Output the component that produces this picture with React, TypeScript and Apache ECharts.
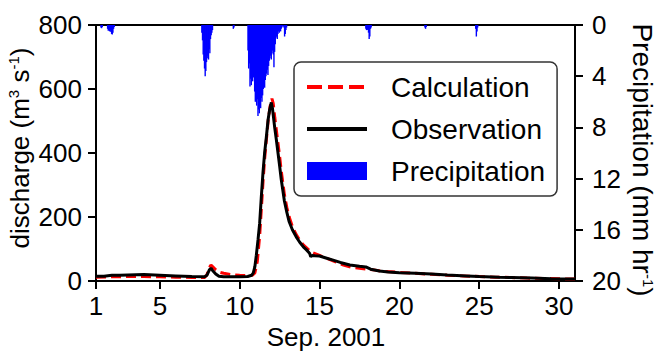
import React, { useEffect, useRef } from "react";
import * as echarts from "echarts";

// ---- Data ----
const xTickValues = [1, 5, 10, 15, 20, 25, 30];

// Observation (day of Sep. 2001, discharge m3/s)
const obsDays = [1.0, 1.5, 2.0, 2.5, 3.0, 4.0, 5.0, 6.0, 7.0, 7.8, 7.95, 8.1, 8.2, 8.3, 8.5, 8.7, 9.0, 9.5, 10.0, 10.5, 10.75, 10.85, 10.95, 11.04, 11.15, 11.25, 11.35, 11.46, 11.56, 11.67, 11.78, 11.875, 11.98, 12.05, 12.19, 12.3, 12.4, 12.5, 12.6, 12.8, 12.95, 13.1, 13.3, 13.54, 13.75, 14.0, 14.17, 14.375, 14.45, 14.55, 14.7, 15.0, 15.4, 15.8, 16.3, 16.9, 17.5, 17.9, 18.2, 18.75, 19.3, 20.0, 21.0, 22.0, 23.0, 24.2, 25.0, 26.25, 27.0, 28.3, 29.5, 30.4, 31.0];
const obsQ = [15, 15, 18, 18, 19, 20, 18, 16, 14, 13, 18, 35, 40, 33, 22, 15, 13, 13, 13, 14, 18, 25, 45, 80, 130, 180, 260, 340, 400, 450, 505, 535, 558, 540, 480, 440, 400, 360, 318, 250, 215, 185, 160, 138, 122, 106, 98, 87, 76, 80, 79, 78, 72, 66, 58, 50, 46, 44, 37, 31, 28, 26, 24, 22, 19, 16, 14, 12, 11, 9, 7, 6, 6];

// Calculation
const calcDays = [1.0, 2.0, 3.0, 4.0, 5.0, 6.0, 7.0, 7.8, 7.95, 8.1, 8.2, 8.3, 8.5, 8.7, 9.0, 9.5, 10.0, 10.5, 10.8, 10.95, 11.1, 11.25, 11.35, 11.46, 11.56, 11.67, 11.78, 11.9, 12.02, 12.1, 12.2, 12.3, 12.4, 12.5, 12.6, 12.8, 12.95, 13.1, 13.3, 13.54, 13.75, 14.0, 14.375, 14.6, 15.0, 15.5, 16.0, 16.5, 17.0, 17.5, 18.0, 18.5, 19.0, 20.0, 21.0, 22.0, 23.0, 24.0, 25.0, 26.0, 27.0, 28.0, 29.0, 30.0, 31.0];
const calcQ = [12, 13, 14, 14, 13, 12, 11, 11, 20, 42, 50, 45, 35, 28, 24, 20, 18, 17, 18, 25, 60, 140, 220, 310, 380, 440, 500, 545, 570, 555, 510, 470, 430, 390, 345, 270, 230, 200, 170, 145, 128, 112, 95, 88, 80, 70, 60, 50, 43, 40, 37, 34, 30, 27, 24, 21, 18, 16, 14, 12, 11, 9, 8, 7, 6];

// Hourly precipitation (mm/hr), each event with its start day
const rain1Start = 1.31;
const rain1 = [0.2, 0.25, 0.15, 0, 0, 0, 0, 0, 0, 0, 0.3, 0.45, 0.4, 0.5, 0.45, 0.55, 0.7, 0.75, 0.6, 0.3, 0.15];
const rain2Start = 7.63;
const rain2 = [0.6, 1.2, 2.3, 2.8, 3.4, 4.0, 3.6, 2.9, 2.6, 2.4, 2.7, 1.9, 2.2, 1.1, 0.8, 0.6, 0.4];
const rain3Start = 9.6;
const rain3 = [0.3, 0.2];
const rain4Start = 10.52;
const rain4 = [2.0, 3.4, 3.0, 4.8, 4.2, 4.7, 3.6, 4.4, 4.1, 3.5, 5.2, 6.0, 5.5, 6.3, 5.8, 7.1, 6.6, 6.9, 6.2, 6.5, 5.7, 6.0, 5.5, 5.0, 4.6, 4.9, 4.3, 4.0, 3.8, 3.5, 3.9, 3.2, 2.8, 2.6, 2.4, 2.7, 2.2, 2.0, 2.3, 3.3, 2.1, 1.5, 1.0, 0.9, 1.1, 0.7, 0.5, 0.6, 0.4, 0.5, 0.3, 0.2, 0.1, 0, 0.2, 0.9, 0.7, 0.4, 0.2];
const rain5Start = 17.9;
const rain5 = [0.3, 0.4, 0.35, 0.4, 0.6, 1.1, 0.9, 0.3, 0.2];
const rain6Start = 21.6;
const rain6 = [0.2, 0.3, 0.15];
const rain7Start = 24.78;
const rain7 = [0.3, 0.9, 0.5, 0.2];

const rainEvents: [number, number[]][] = [
  [rain1Start, rain1],
  [rain2Start, rain2],
  [rain3Start, rain3],
  [rain4Start, rain4],
  [rain5Start, rain5],
  [rain6Start, rain6],
  [rain7Start, rain7],
];

const FONT = "'Liberation Sans', Arial, Helvetica, sans-serif";

export default function App() {
  const ref = useRef<HTMLDivElement>(null);

  useEffect(() => {
    document.body.style.margin = "0";
    if (!ref.current) return;
    const chart = echarts.init(ref.current, undefined, { renderer: "svg" });

    const obsData = obsDays.map((d, i) => [d, obsQ[i]]);
    const calcData = calcDays.map((d, i) => [d, calcQ[i]]);
    const rainData: number[][] = [];
    rainEvents.forEach(([start, vals]) => {
      vals.forEach((v, i) => {
        if (v > 0) rainData.push([start + i / 24, v]);
      });
    });

    chart.setOption({
      animation: false,
      grid: {
        left: 96,
        right: 83,
        top: 25,
        bottom: 70,
        show: true,
        borderColor: "#000",
        borderWidth: 2,
        backgroundColor: "transparent",
      },
      legend: {
        orient: "vertical",
        left: 294,
        top: 62,
        itemWidth: 60,
        itemHeight: 18,
        itemGap: 12,
        padding: [10, 12, 10, 11],
        borderColor: "#333",
        borderWidth: 1.5,
        borderRadius: 7,
        backgroundColor: "#fff",
        textStyle: {
          fontFamily: FONT,
          fontSize: 28,
          color: "#000",
          lineHeight: 30,
          padding: [0, 0, 0, 19],
        },
        data: [
          {
            name: "Calculation",
            itemStyle: { opacity: 0 },
            lineStyle: { color: "#ff0000", width: 4, type: [15, 6] },
          },
          {
            name: "Observation",
            itemStyle: { opacity: 0 },
            lineStyle: { color: "#000", width: 4 },
          },
          { name: "Precipitation", icon: "rect" },
        ],
      },
      xAxis: {
        type: "value",
        min: 1,
        max: 31,
        axisLine: { show: true, lineStyle: { color: "#000", width: 2 } },
        axisTick: {
          show: true,
          customValues: xTickValues,
          length: 8,
          lineStyle: { color: "#000", width: 2 },
        },
        axisLabel: {
          customValues: xTickValues,
          fontFamily: FONT,
          fontSize: 26,
          color: "#000",
          margin: 12,
        },
        splitLine: { show: false },
      },
      yAxis: [
        {
          type: "value",
          min: 0,
          max: 800,
          interval: 200,
          position: "left",
          axisLine: { show: true, lineStyle: { color: "#000", width: 2 } },
          axisTick: { show: true, length: 8, lineStyle: { color: "#000", width: 2 } },
          axisLabel: { fontFamily: FONT, fontSize: 26, color: "#000", margin: 14 },
          splitLine: { show: false },
        },
        {
          type: "value",
          min: 0,
          max: 20,
          interval: 4,
          inverse: true,
          position: "right",
          axisLine: { show: true, lineStyle: { color: "#000", width: 2 } },
          axisTick: { show: true, length: 8, lineStyle: { color: "#000", width: 2 } },
          axisLabel: { fontFamily: FONT, fontSize: 26, color: "#000", margin: 17 },
          splitLine: { show: false },
        },
      ],
      series: [
        {
          name: "Precipitation",
          type: "bar",
          yAxisIndex: 1,
          data: rainData,
          barWidth: 1.4,
          itemStyle: { color: "#0000ff" },
          z: 1,
        },
        {
          name: "Calculation",
          type: "line",
          data: calcData,
          symbol: "none",
          lineStyle: { color: "#ff0000", width: 3, type: [10, 5] },
          itemStyle: { color: "#ff0000" },
          z: 3,
        },
        {
          name: "Observation",
          type: "line",
          data: obsData,
          symbol: "none",
          lineStyle: { color: "#000", width: 3 },
          itemStyle: { color: "#000" },
          z: 4,
        },
      ],
      graphic: [
        {
          type: "text",
          x: 326,
          y: 337,
          style: {
            text: "Sep. 2001",
            fontFamily: FONT,
            fontSize: 26,
            lineHeight: 26,
            fill: "#000",
            align: "center",
            verticalAlign: "middle",
          },
        },
        {
          type: "text",
          x: 20,
          y: 148,
          rotation: Math.PI / 2,
          style: {
            text: "{a|discharge (m}{b|3}{a| s}{b|-1}{a|)}",
            align: "center",
            verticalAlign: "middle",
            fill: "#000",
            rich: {
              a: { fontFamily: FONT, fontSize: 26, lineHeight: 28, fill: "#000" },
              b: { fontFamily: FONT, fontSize: 15, lineHeight: 16, verticalAlign: "top", fill: "#000" },
            },
          },
        },
        {
          type: "text",
          x: 642,
          y: 160,
          rotation: -Math.PI / 2,
          style: {
            text: "{a|Precipitation (mm hr}{b|-1}{a|)}",
            align: "center",
            verticalAlign: "middle",
            fill: "#000",
            rich: {
              a: { fontFamily: FONT, fontSize: 28, lineHeight: 28, fill: "#000" },
              b: { fontFamily: FONT, fontSize: 15, lineHeight: 16, verticalAlign: "top", fill: "#000" },
            },
          },
        },
      ],
    });

    return () => chart.dispose();
  }, []);

  return (
    <div
      ref={ref}
      style={{ position: "absolute", left: 0, top: 0, width: 658, height: 351 }}
    />
  );
}
